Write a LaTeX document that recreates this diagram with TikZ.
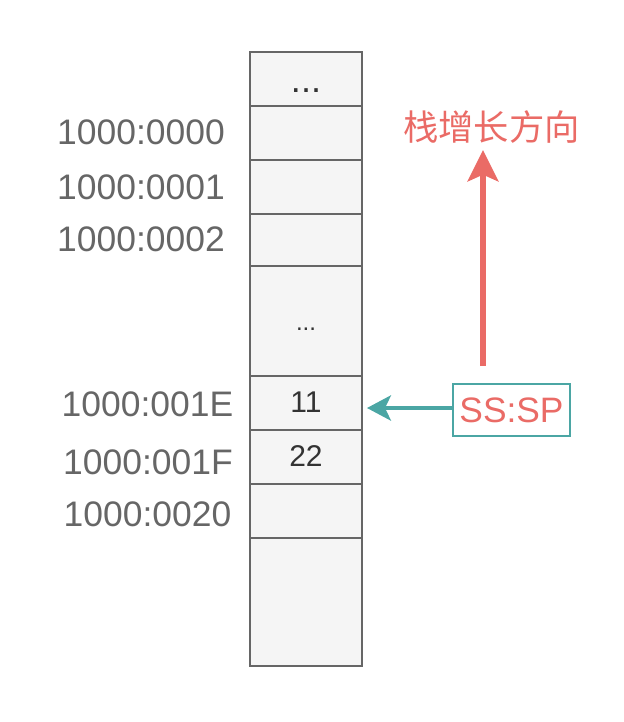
\documentclass[tikz,border=0pt]{standalone}
\usepackage{fontspec}
\setmainfont{Liberation Sans}
\newfontfamily\cjk{Noto Sans CJK SC}
\usetikzlibrary{arrows.meta}
\definecolor{cellfill}{HTML}{F5F5F5}
\definecolor{cellline}{HTML}{666666}
\definecolor{addrtext}{HTML}{666666}
\definecolor{celltext}{HTML}{333333}
\definecolor{teal}{HTML}{4BA6A4}
\definecolor{redtext}{HTML}{EA6B66}
\begin{document}
\begin{tikzpicture}[x=0.75pt,y=-0.75pt,
  cell/.style={draw=cellline, fill=cellfill, line width=1.5pt, minimum width=84pt, inner sep=0pt, outer sep=0pt},
  addr/.style={text=addrtext, inner sep=0pt, font=\fontsize{26.6}{30}\selectfont},
  celltxt/.style={text=celltext, inner sep=0pt, font=\fontsize{22.5}{26}\selectfont},
  dots/.style={text=celltext, inner sep=0pt},
  spbox/.style={draw=teal, fill=white, line width=1.5pt, minimum width=87.75pt, minimum height=39pt, inner sep=0pt, text=redtext, font=\fontsize{26.5}{30}\selectfont},
  title/.style={text=redtext, inner sep=0pt, font=\cjk\fontsize{26.5}{30}\selectfont}
]
\useasboundingbox (0,0) rectangle (624,722);
% stack cells
\node[cell, minimum height=40.5pt] (c0) at (306,79) {};
\node[cell, minimum height=40.5pt] (c1) at (306,133) {};
\node[cell, minimum height=40.5pt] (c2) at (306,187) {};
\node[cell, minimum height=39pt] (c3) at (306,240) {};
\node[cell, minimum height=82.5pt] (c4) at (306,321) {};
\node[cell, minimum height=40.5pt] (c5) at (306,403) {};
\node[cell, minimum height=40.5pt] (c6) at (306,457) {};
\node[cell, minimum height=40.5pt] (c7) at (306,511) {};
\node[cell, minimum height=96pt] (c8) at (306,602) {};
% cell texts
\node[dots, font=\fontsize{27}{30}\selectfont] (d0) at (306,91) {...};
\node[dots, font=\fontsize{18}{22}\selectfont] (d4) at (306,329) {...};
\node[celltxt] (v5) at (306,402.5) {11};
\node[celltxt] (v6) at (306,456) {22};
% addresses
\node[addr] (a1) at (141,132.5) {1000:0000};
\node[addr] (a2) at (141,187.5) {1000:0001};
\node[addr] (a3) at (141,239.5) {1000:0002};
\node[addr] (a5) at (147.5,404.5) {1000:001E};
\node[addr] (a6) at (148,462) {1000:001F};
\node[addr] (a7) at (147.5,514.5) {1000:0020};
% SS:SP pointer
\node[spbox] (sp) at (511.5,410) {SS:SP};
\coordinate (tip) at (367,408);
\draw[teal, line width=2.4pt, -{Stealth[length=18pt, width=19pt, inset=4.5pt]}] (sp.west |- tip) -- (tip);
% growth direction
\node[title] (dir) at (491.5,127) {栈增长方向};
\coordinate (gs) at (483,366);
\coordinate (ge) at (483,150);
\draw[redtext, line width=3.9pt, -{Stealth[length=23.5pt, width=23pt, inset=5pt]}] (gs) -- (ge);
\end{tikzpicture}
\end{document}
